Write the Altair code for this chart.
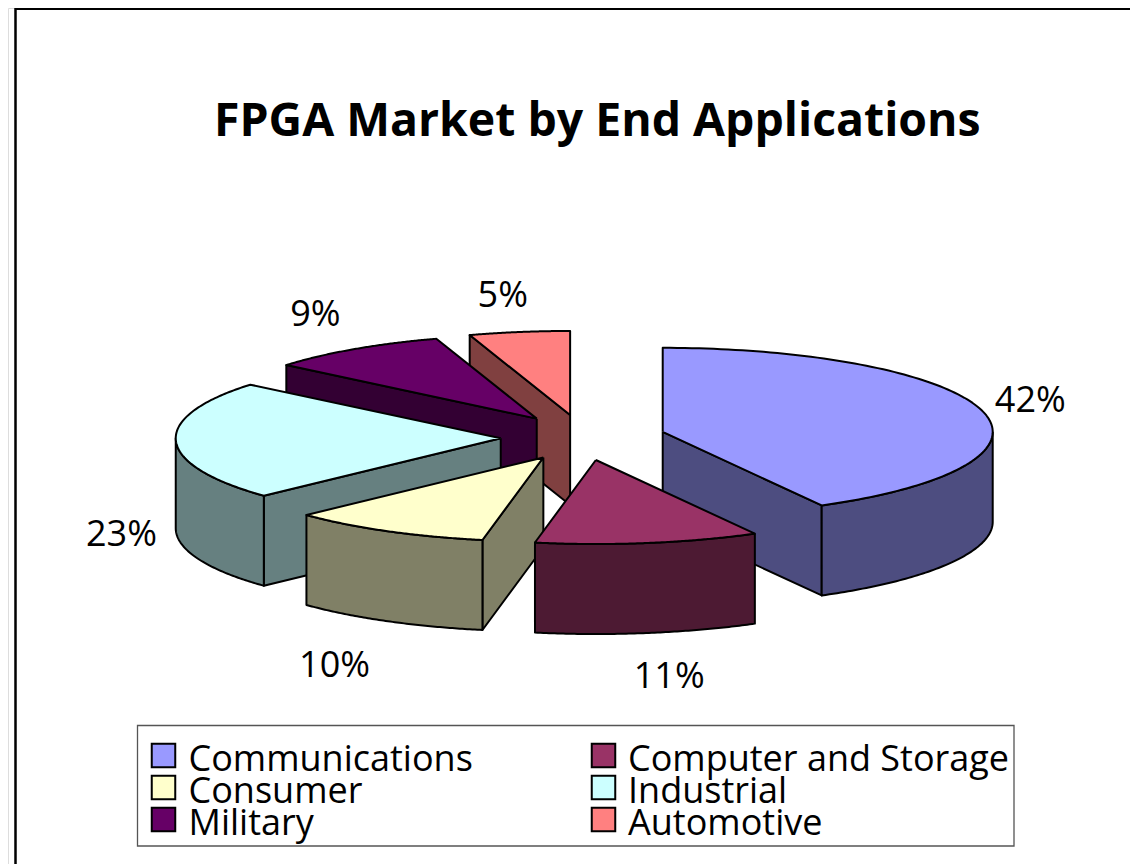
import numpy as np
import pandas as pd
import altair as alt

categories = ["Communications", "Computer and Storage", "Consumer", "Industrial", "Military", "Automotive"]
shares = [42, 11, 10, 23, 9, 5]
top_colors = ["#9999FF", "#993366", "#FFFFCC", "#CCFFFF", "#660066", "#FF8080"]
side_colors = ["#4D4D80", "#4D1A33", "#808066", "#668080", "#330033", "#804040"]
paint_order = ["Automotive", "Military", "Industrial", "Communications", "Consumer", "Computer and Storage"]
label_nudges = {"Communications": (0, -7), "Computer and Storage": (14, 32), "Consumer": (-26, 34),
                "Industrial": (0, 4), "Military": (-8, -24), "Automotive": (-8, -24)}

# pie projection
CX, CY = 583.0, 437.5
RX_R, RX_L, RY, DEPTH = 330.0, 325.0, 84.0, 90.0
EX, EY = 82.3, 22.8
W, H = 1122, 856

def pt(apex, deg):
    a = np.radians(deg)
    s, c = np.sin(a), np.cos(a)
    return (apex[0] + (RX_R if s >= 0 else RX_L) * s, apex[1] - RY * c)

rows, labels = [], []
pid = 0
def add(points, fill):
    global pid
    for i, (x, y) in enumerate(points):
        rows.append({"poly": pid, "idx": i, "px": x, "py": y, "face": fill})
    pid += 1

starts = {}
acc = 0.0
for c, s in zip(categories, shares):
    starts[c] = (acc * 3.6, (acc + s) * 3.6)
    acc += s

for name in paint_order:
    i = categories.index(name)
    a0, a1 = starts[name]
    m = np.radians((a0 + a1) / 2)
    apex = (CX + EX * np.sin(m), CY - EY * np.cos(m))
    side, top = side_colors[i], top_colors[i]
    down = lambda p: (p[0], p[1] + DEPTH)
    # radial walls
    if np.sin(np.radians(a0)) < -1e-9:
        p = pt(apex, a0)
        add([apex, p, down(p), down(apex), apex], side)
    if np.sin(np.radians(a1)) > 1e-9:
        p = pt(apex, a1)
        add([apex, p, down(p), down(apex), apex], side)
    # outer wall: the part of the rim that faces the viewer
    lo, hi = max(a0, 90.0), min(a1, 270.0)
    if hi > lo:
        rim = [pt(apex, d) for d in np.linspace(lo, hi, 80)]
        add(rim + [down(p) for p in rim[::-1]] + [rim[0]], side)
    # top
    arc = [pt(apex, d) for d in np.linspace(a0, a1, 120)]
    add([apex] + arc + [apex], top)
    # label
    n = label_nudges[name]
    lx = apex[0] + 1.15 * RX_R * np.sin(m) + n[0]
    ly = apex[1] - 1.15 * RY * np.cos(m) + (DEPTH if np.cos(m) < 0 else 0) + n[1]
    labels.append({"px": lx, "py": ly, "text": f"{shares[i]}%"})

faces = pd.DataFrame(rows)
xs = alt.Scale(domain=[8, 8 + W], nice=False, zero=False)
ys = alt.Scale(domain=[8 + H, 8], nice=False, zero=False)
X = alt.X("px:Q", scale=xs, axis=None)
Y = alt.Y("py:Q", scale=ys, axis=None)

FONT = "Open Sans"

frame = alt.Chart(pd.DataFrame({"px": [15.5, 15.5, 8 + W], "py": [864, 8.8, 8.8], "idx": [0, 1, 2]})).mark_line(
    stroke="black", strokeWidth=2.5).encode(x=X, y=Y, order="idx:O")

pie = alt.Chart(faces).mark_line(filled=True, stroke="black", strokeWidth=2, strokeJoin="round").encode(
    x=X, y=Y, order="idx:Q", detail="poly:N", fill=alt.Fill("face:N", scale=None))

pct = alt.Chart(pd.DataFrame(labels)).mark_text(font=FONT, fontSize=36, color="black").encode(
    x=X, y=Y, text="text:N")

box = alt.Chart(pd.DataFrame({"px": [137.5], "px2": [1014], "py": [725.5], "py2": [846]})).mark_rect(
    fill="white", stroke="#555555", strokeWidth=1.3).encode(
    x=X, x2="px2:Q", y=Y, y2="py2:Q")

# two-column legend, filled row by row
leg = pd.DataFrame({
    "cat": categories,
    "color": top_colors,
    "col": [k % 2 for k in range(len(categories))],
    "row": [k // 2 for k in range(len(categories))],
})
leg["sx"] = 163.5 + 440 * leg["col"]
leg["sy"] = 755.5 + 32 * leg["row"]
leg["tx"] = 188.5 + 439.5 * leg["col"]
leg["ty"] = 770.5 + 32 * leg["row"]

swatches = alt.Chart(leg).mark_square(size=552, stroke="black", strokeWidth=2, opacity=1, filled=True).encode(
    x=alt.X("sx:Q", scale=xs, axis=None), y=alt.Y("sy:Q", scale=ys, axis=None),
    fill=alt.Fill("color:N", scale=None))
leg_text = alt.Chart(leg).mark_text(font=FONT, fontSize=36, color="black", align="left", baseline="alphabetic").encode(
    x=alt.X("tx:Q", scale=xs, axis=None), y=alt.Y("ty:Q", scale=ys, axis=None), text="cat:N")

chart = alt.layer(frame, box, pie, pct, swatches, leg_text).properties(
    width=W, height=H, padding=0,
    autosize=alt.AutoSizeParams(type="none"),
    title=alt.TitleParams("FPGA Market by End Applications", font=FONT, fontSize=46.4, fontWeight="bold",
                          color="black", anchor="start", offset=-179, dx=206, baseline="alphabetic"),
).configure_view(stroke=None).configure(background="white")

chart.save("out.html", embed_options={"renderer": "svg", "actions": False})
